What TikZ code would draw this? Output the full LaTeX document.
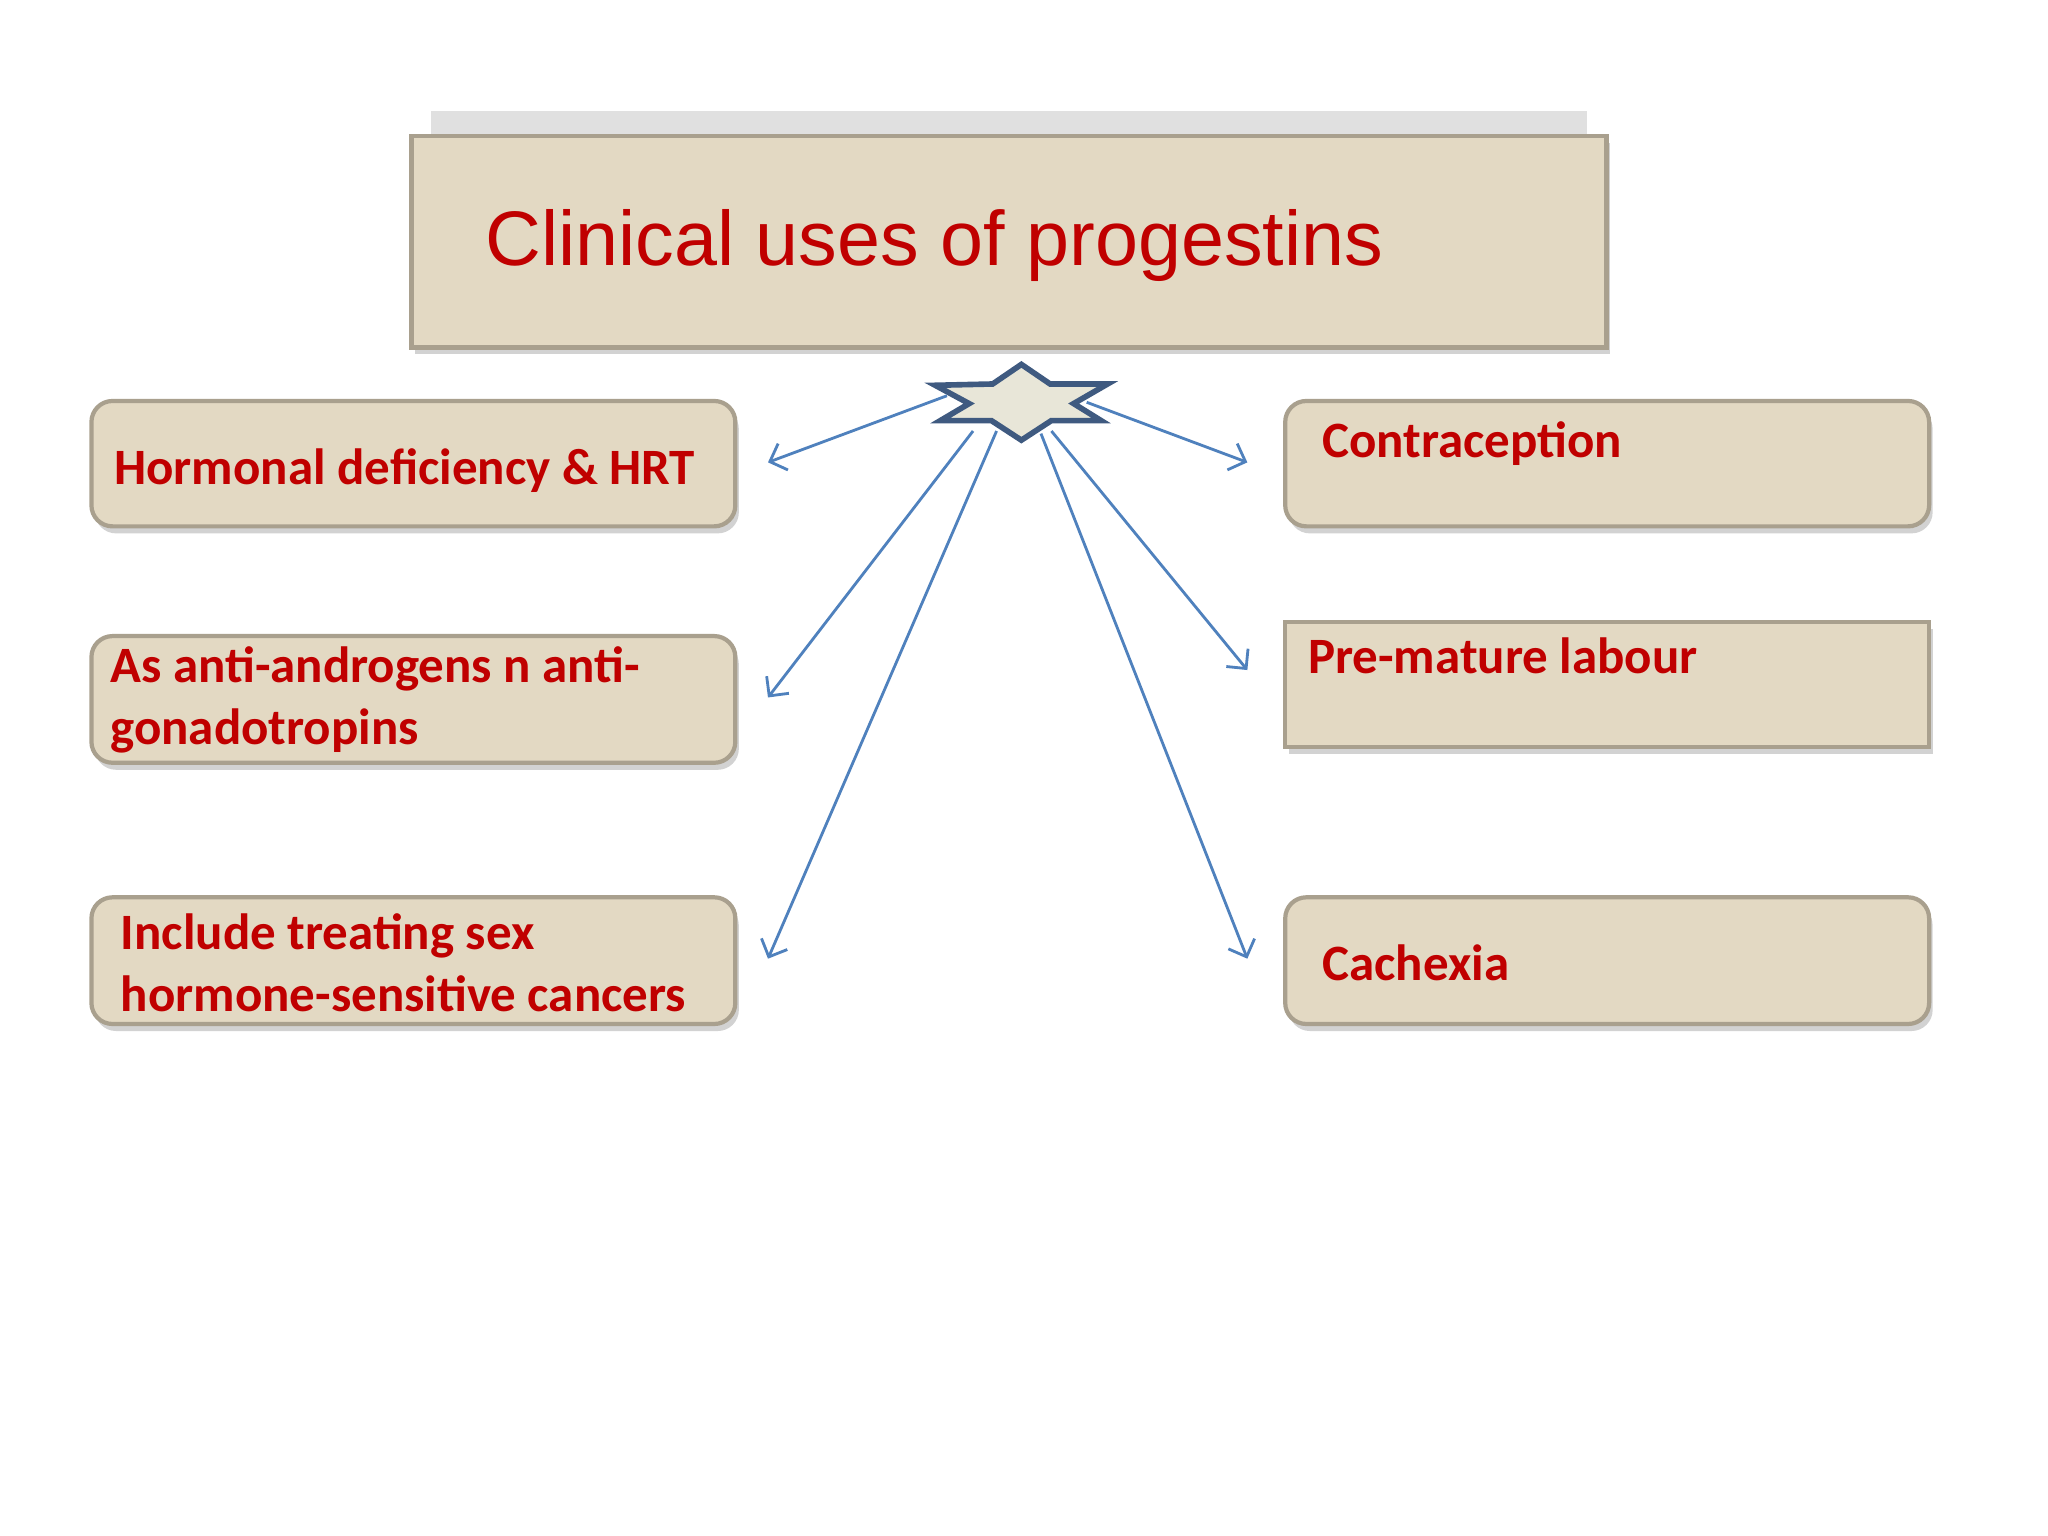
\documentclass[tikz,border=0pt]{standalone}
\usepackage{fontspec}
\setmainfont{Carlito}
\newfontfamily\titlefont{Liberation Sans}
\usetikzlibrary{shadows,arrows.meta}
\definecolor{beige}{HTML}{E3D9C3}
\definecolor{beigeedge}{HTML}{A9A08E}
\definecolor{dred}{HTML}{C00000}
\definecolor{lblue}{HTML}{4F81BD}
\definecolor{stfill}{HTML}{E8E6D8}
\definecolor{stedge}{HTML}{3F5A80}
\tikzset{
  box/.style={draw=beigeedge, line width=1.2pt, fill=beige, rounded corners=6pt, drop shadow={opacity=0.35, shadow xshift=1pt, shadow yshift=-2pt}},
  lbl/.style={text=dred, font=\bfseries\fontsize{14.5}{17.5}\selectfont, align=left, anchor=west},
  conn/.style={draw=lblue, line width=0.8pt, -{Straight Barb[length=4pt,width=8pt]}}
}
\begin{document}
\begin{tikzpicture}[x=0.01306cm,y=-0.01306cm]
\useasboundingbox (0,0) rectangle (1568,1176);
\fill[white] (0,0) rectangle (1568,1176);
% title
\fill[gray!40, opacity=0.6] (330,85) rectangle (1215,104);
\draw[box, rounded corners=0pt] (315,104) rectangle (1230,266);
\node[text=dred, font=\titlefont\fontsize{22}{26}\selectfont, anchor=west] (title) at (362,188) {Clinical uses of progestins};
% boxes
\draw[box] (70,307) rectangle (563,403);
\draw[box] (70,487) rectangle (563,584);
\draw[box] (70,687) rectangle (563,784);
\draw[box] (984,307) rectangle (1477,403);
\draw[box, rounded corners=0pt] (984,476) rectangle (1477,572);
\draw[box] (984,687) rectangle (1477,784);
\node[lbl] (l1) at (78,360) {Hormonal deficiency \& HRT};
\node[lbl] (l2) at (75,536) {As anti-androgens n anti-\\gonadotropins};
\node[lbl] (l3) at (83,737) {Include treating sex\\hormone-sensitive cancers};
\node[lbl] (r1) at (1003,340) {Contraception};
\node[lbl] (r2) at (992,502) {Pre-mature labour};
\node[lbl] (r3) at (1003,737) {Cachexia};
% star
\draw[draw=stedge, fill=stfill, line width=1.6pt, line join=miter]
 (782,279) -- (804,294) -- (848,294) -- (822,309) -- (843,322) -- (805,322)
 -- (782,337) -- (759,322) -- (720,322) -- (742,309) -- (716,295) -- (760,294) -- cycle;
\coordinate (s1) at (725,303);
\coordinate (s2) at (745,330);
\coordinate (s3) at (763,330);
\coordinate (s4) at (832,308);
\coordinate (s5) at (805,330);
\coordinate (s6) at (797,332);
\coordinate (e1) at (588,354);
\coordinate (e2) at (588,534);
\coordinate (e3) at (588,734);
\coordinate (e4) at (955,354);
\coordinate (e5) at (955,513);
\coordinate (e6) at (955,734);
\draw[conn] (s1) -- (e1);
\draw[conn] (s2) -- (e2);
\draw[conn] (s3) -- (e3);
\draw[conn] (s4) -- (e4);
\draw[conn] (s5) -- (e5);
\draw[conn] (s6) -- (e6);
\end{tikzpicture}
\end{document}
